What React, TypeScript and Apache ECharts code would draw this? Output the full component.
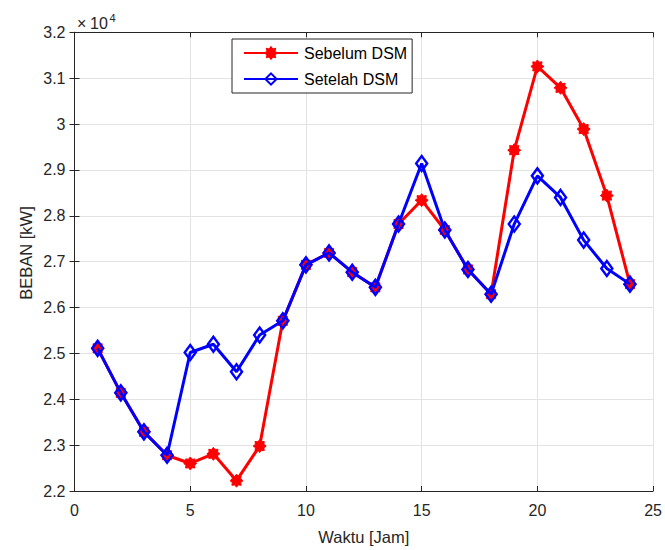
import React, { useEffect, useRef } from "react";
import * as echarts from "echarts";

const hours = [1, 2, 3, 4, 5, 6, 7, 8, 9, 10, 11, 12, 13, 14, 15, 16, 17, 18, 19, 20, 21, 22, 23, 24];
const sebelum = [25110, 24140, 23290, 22780, 22600, 22810, 22225, 22980, 25710, 26930, 27190, 26770, 26440, 27820, 28340, 27690, 26830, 26290, 29430, 31256, 30790, 29890, 28440, 26510];
const setelah = [25110, 24140, 23290, 22780, 25020, 25200, 24600, 25400, 25710, 26930, 27190, 26770, 26440, 27820, 29140, 27690, 26830, 26290, 27820, 28870, 28400, 27470, 26850, 26510];
const seriesNames = ["Sebelum DSM", "Setelah DSM"];
const xTitle = "Waktu [Jam]";
const yTitle = "BEBAN [kW]";

const starPath =
  "path://M20 10 L16.47 12.68 L17.07 17.07 L12.68 16.47 L10 20 L7.32 16.47 L2.93 17.07 L3.53 12.68 L0 10 L3.53 7.32 L2.93 2.93 L7.32 3.53 L10 0 L12.68 3.53 L17.07 2.93 L16.47 7.32 Z";

const FONT = "Liberation Sans, Arial, Helvetica, sans-serif";
const TXT = "#262626";
const GRID = { left: 74.5, right: 9.7, top: 32.3, bottom: 59 };

export default function App() {
  const ref = useRef<HTMLDivElement>(null);
  useEffect(() => {
    if (!ref.current) return;
    const chart = echarts.init(ref.current, undefined, { renderer: "svg" });
    const axisLine = { show: true, lineStyle: { color: TXT, width: 1 } };
    const axisTick = { show: true, inside: true, length: 5, lineStyle: { color: TXT, width: 1 } };
    const splitLine = { show: true, lineStyle: { color: "#e3e3e3", width: 1 } };
    chart.setOption({
      animation: false,
      backgroundColor: "#ffffff",
      textStyle: { fontFamily: FONT },
      grid: { ...GRID, containLabel: false },
      legend: {
        orient: "vertical",
        left: 232,
        top: 39,
        padding: [6, 5, 6, 11],
        itemGap: 10,
        itemWidth: 54,
        itemHeight: 14,
        backgroundColor: "#ffffff",
        borderColor: "#262626",
        borderWidth: 1,
        borderRadius: 0,
        textStyle: { fontFamily: FONT, fontSize: 16, color: "#000000", padding: [0, 0, 0, 1] },
        data: seriesNames,
      },
      xAxis: [
        {
          type: "value",
          min: 0,
          max: 25,
          interval: 5,
          axisLine,
          axisTick,
          splitLine,
          axisLabel: { color: TXT, fontSize: 16, fontFamily: FONT, margin: 11 },
          name: xTitle,
          nameLocation: "middle",
          nameGap: 37,
          nameTextStyle: { color: TXT, fontSize: 16.5, fontFamily: FONT },
        },
        {
          type: "value",
          position: "top",
          min: 0,
          max: 25,
          interval: 5,
          axisLine,
          axisTick,
          splitLine: { show: false },
          axisLabel: { show: false },
        },
      ],
      yAxis: [
        {
          type: "value",
          min: 22000,
          max: 32000,
          interval: 1000,
          axisLine,
          axisTick,
          splitLine,
          axisLabel: {
            color: TXT,
            fontSize: 16,
            fontFamily: FONT,
            margin: 9,
            formatter: (v: number) => String(Math.round(v / 100) / 100),
          },
        },
        {
          type: "value",
          position: "right",
          min: 22000,
          max: 32000,
          interval: 1000,
          axisLine,
          axisTick,
          splitLine: { show: false },
          axisLabel: { show: false },
        },
      ],
      graphic: [
        {
          type: "text",
          x: 26,
          y: 253,
          rotation: Math.PI / 2,
          style: {
            text: yTitle,
            fill: TXT,
            fontSize: 16.5,
            fontFamily: FONT,
            align: "center",
            verticalAlign: "middle",
          },
        },
        {
          type: "text",
          x: 77,
          y: 31,
          style: {
            text: "×",
            fill: TXT,
            fontSize: 16,
            fontFamily: FONT,
            align: "left",
            verticalAlign: "bottom",
          },
        },
        {
          type: "text",
          x: 90,
          y: 31,
          style: {
            text: "10",
            fill: TXT,
            fontSize: 16,
            fontFamily: FONT,
            align: "left",
            verticalAlign: "bottom",
          },
        },
        {
          type: "text",
          x: 109.5,
          y: 23.5,
          style: {
            text: "4",
            fill: TXT,
            fontSize: 11,
            fontFamily: FONT,
            align: "left",
            verticalAlign: "bottom",
          },
        },
      ],
      series: [
        {
          name: seriesNames[0],
          type: "line",
          data: hours.map((h, i) => [h, sebelum[i]]),
          lineStyle: { color: "#ff0000", width: 3 },
          itemStyle: { color: "#ff0000", borderColor: "#ff0000", borderWidth: 1 },
          symbol: starPath,
          symbolSize: 13,
          showAllSymbol: true,
          z: 2,
        },
        {
          name: seriesNames[1],
          type: "line",
          data: hours.map((h, i) => [h, setelah[i]]),
          lineStyle: { color: "#0000ff", width: 3 },
          itemStyle: { color: "rgba(255,255,255,0)", borderColor: "#0000ff", borderWidth: 2.5 },
          symbol: "diamond",
          symbolSize: [11, 15],
          showAllSymbol: true,
          z: 3,
        },
      ],
    });
    return () => chart.dispose();
  }, []);
  return <div ref={ref} style={{ width: 665, height: 550, position: "absolute", left: 0, top: 0 }} />;
}
